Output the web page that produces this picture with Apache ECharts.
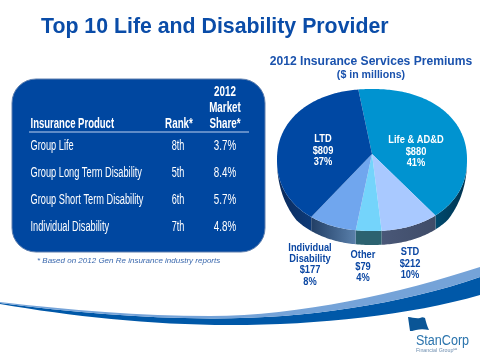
<!DOCTYPE html>
<html><head><meta charset="utf-8">
<style>html,body{margin:0;padding:0;background:#fff}#c{width:480px;height:359px}</style>
<script src="https://cdn.jsdelivr.net/npm/echarts@6/dist/echarts.min.js"></script>
</head><body><div id="c"></div>
<script>
const segments = ['Life & AD&D','STD','Other','Individual\nDisability','LTD'];
const premiums = [880,212,79,177,809];
const shares = ['41%','10%','4%','8%','37%'];
const topColors = ['#0093d0','#a9c9ff','#74d4fb','#70a6ee','#0048a3'];
const sideColors = [['#004a6e','#003350'],['#4a5878','#3f4c68'],['#2c6270','#2c6270'],['#223f66','#5a80ab'],['#0a2a5c','#0d3a78']];
const tableProducts = ['Group Life','Group Long Term Disability','Group Short Term Disability','Individual Disability'];
const tableRanks = ['8th','5th','6th','7th'];
const tableShares = ['3.7%','8.4%','5.7%','4.8%'];

const CX=372, CY=160, RX=95, RY=71, AX=372, AY=154, DEPTH=14, START=-7, P=0.92;
const total = premiums.reduce((a,b)=>a+b,0);
const pw=v=>Math.sign(v)*Math.pow(Math.abs(v),P);
const pt=(deg,dy)=>{const r=deg*Math.PI/180;return [CX+RX*pw(Math.sin(r)),CY-RY*pw(Math.cos(r))+(dy||0)];};
const wall=deg=>DEPTH*Math.min(1,Math.abs(Math.cos(deg*Math.PI/180))*1.6);
const labelPos=[[416,152],[410,264],[363,267],[310,265],[323,151]];
const labelColor=['#fff','#0b47a3','#0b47a3','#0b47a3','#fff'];

function renderSlice(params, api){
  const i=params.dataIndex; let before=0;
  for(let k=0;k<i;k++) before+=premiums[k];
  const a0=START+before/total*360, a1=a0+api.value(0)/total*360;
  const top=[[AX,AY]];
  for(let a=a0;a<=a1+1e-6;a+=1) top.push(pt(a));
  top.push(pt(a1));
  const s0=Math.max(a0,90), s1=Math.min(a1,270);
  const children=[];
  if(s1>s0){
    const up=[],dn=[];
    for(let a=s0;a<=s1;a+=1){up.push(pt(a));dn.unshift(pt(a,wall(a)));}
    up.push(pt(s1));dn.unshift(pt(s1,wall(s1)));
    children.push({type:'polygon',shape:{points:up.concat(dn)},style:{fill:{type:'linear',x:0,y:0,x2:1,y2:0,colorStops:[{offset:0,color:sideColors[i][0]},{offset:1,color:sideColors[i][1]}]}}});
  }
  children.push({type:'polygon',shape:{points:top},style:{fill:topColors[i]}});
  return {type:'group',children};
}
function renderLabel(params, api){
  const i=params.dataIndex;
  return {type:'text',x:labelPos[i][0],y:labelPos[i][1],scaleX:0.93,style:{x:0,y:0,text:segments[i]+'\n$'+api.value(0)+'\n'+shares[i],fill:labelColor[i],
    font:'bold 10px "Liberation Sans"',align:'center',verticalAlign:'middle',lineHeight:11.3},z2:10};
}
const decorPaths=[
 ['M0,304 C70,316 150,325 230,325 C320,325 410,315 480,295 L480,277 C400,305 300,319 210,318.5 C140,318 70,312 0,303 Z','#0058a8'],
 ['M0,302 C70,310 140,316 210,316 C300,316 400,293 480,267 L480,277 C400,305 300,319 210,318.5 C140,318 70,312 0,303 Z','#75a3d8'],
 ['M408,317 C412,317 416,319 420,318 C422,317 423,317 425,318 C426,322 427,326 429,330 C424,329 420,329 416,330 C413,331 411,331 410,331 Z','#0a5596']
];
function renderDecor(params){
  const d=decorPaths[params.dataIndex];
  return {type:'path',shape:{pathData:d[0]},style:{fill:d[1]}};
}
const graphics=[];
graphics.push({type:'text',x:442.5,y:341,scaleX:0.9,style:{text:'StanCorp',fill:'#2b74ad',font:'14px "Liberation Sans"',align:'center',verticalAlign:'middle'}});
graphics.push({type:'text',style:{x:416,y:351,text:'Financial Group℠',fill:'#6f8fb0',font:'5.3px "Liberation Sans"',align:'left',verticalAlign:'middle'}});
graphics.push({type:'text',style:{x:41,y:27,text:'Top 10 Life and Disability Provider',fill:'#0a4ca8',font:'bold 21.3px "Liberation Sans"',align:'left',verticalAlign:'middle'}});
graphics.push({type:'text',style:{x:371,y:62,text:'2012 Insurance Services Premiums',fill:'#1a52ad',font:'bold 12.1px "Liberation Sans"',align:'center',verticalAlign:'middle'}});
graphics.push({type:'text',style:{x:371,y:75,text:'($ in millions)',fill:'#1a52ad',font:'bold 10.6px "Liberation Sans"',align:'center',verticalAlign:'middle'}});
graphics.push({type:'rect',shape:{x:12,y:79,width:253,height:173,r:24},style:{fill:'#0047a0',stroke:'#5f7fae',lineWidth:1}});
graphics.push({type:'line',shape:{x1:29,y1:132,x2:249,y2:132},style:{stroke:'#7fa3d6',lineWidth:1.5}});
const tf='14px "Liberation Sans"', hf='bold 14px "Liberation Sans"';
const txt=(x,y,text,align,font,sx)=>graphics.push({type:'text',z:5,x,y,scaleX:sx,style:{text,fill:'#fff',font,align,verticalAlign:'middle'}});
txt(30.5,124,'Insurance Product','left',hf,0.68);
txt(179,124,'Rank*','center',hf,0.7);
txt(225,92,'2012','center',hf,0.7);
txt(225,108,'Market','center',hf,0.7);
txt(225,124,'Share*','center',hf,0.7);
const rowY=[146,173,200,227];
tableProducts.forEach((p,i)=>{txt(30.5,rowY[i],p,'left',tf,0.66);txt(178,rowY[i],tableRanks[i],'center',tf,0.65);txt(225,rowY[i],tableShares[i],'center',tf,0.7);});
graphics.push({type:'text',style:{x:37,y:261,text:'* Based on 2012 Gen Re insurance industry reports',fill:'#3a68ad',font:'italic 8px "Liberation Sans"',align:'left',verticalAlign:'middle'}});

const chart=echarts.init(document.getElementById('c'));
chart.setOption({animation:false,
  graphic:{elements:graphics},
  series:[
    {type:'custom',coordinateSystem:'none',name:'Decor',z:1,data:decorPaths.map((d,i)=>[i]),renderItem:renderDecor,silent:true},
    {type:'custom',coordinateSystem:'none',name:'Premiums',z:3,data:premiums.map(v=>[v]),renderItem:renderSlice,silent:true},
    {type:'custom',coordinateSystem:'none',name:'Labels',z:4,data:premiums.map(v=>[v]),renderItem:renderLabel,silent:true}
  ]});
</script></body></html>
